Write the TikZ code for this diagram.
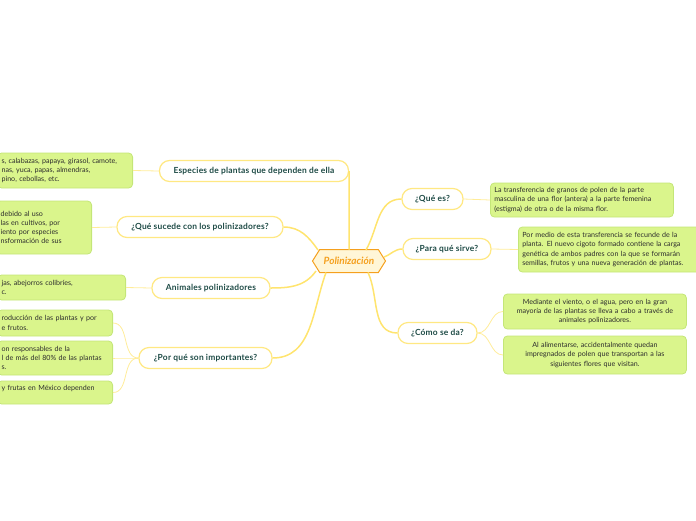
\documentclass[tikz,border=0pt]{standalone}
\usepackage{fontspec}
\setmainfont{Lato}
\newfontfamily\pillfont[LetterSpace=2.5]{Lato}
\usepackage{tikz}
\usetikzlibrary{shapes.symbols}
\definecolor{linkyellow}{RGB}{255,228,110}
\definecolor{pillborder}{RGB}{255,232,130}
\definecolor{pilltext}{RGB}{30,75,70}
\definecolor{leafgreen}{RGB}{218,245,140}
\definecolor{leafborder}{RGB}{196,230,120}
\definecolor{leaftext}{RGB}{45,45,45}
\definecolor{rootorange}{RGB}{245,160,30}
\definecolor{rootfill}{RGB}{255,246,215}

\begin{document}
\begin{tikzpicture}[x=1pt, y=-1pt,
  pill/.style={draw=pillborder, line width=1.2pt, fill=white, rounded corners=10pt,
    minimum height=21pt, inner xsep=6pt, inner ysep=0pt, text=pilltext,
    font=\pillfont\fontsize{8.4}{9}\selectfont\bfseries},
  leaf/.style={draw=leafborder, line width=0.8pt, fill=leafgreen, rounded corners=4pt,
    inner sep=4pt, text=leaftext, font=\fontsize{7.1}{9.2}\selectfont},
  link/.style={draw=linkyellow, line width=1.5pt},
  twig/.style={draw=linkyellow!70, line width=0.8pt}]
  \useasboundingbox (0,0) rectangle (696,520);
  \clip (0,0) rectangle (696,520);

  % root
  \node[signal, signal to=east and west, signal pointer angle=116, draw=rootorange,
    line width=1pt, fill=rootfill, minimum width=73pt, minimum height=23pt,
    inner sep=0pt, text=rootorange, font=\fontsize{10}{11}\selectfont\bfseries\itshape]
    (root) at (349,261) {Polinización};

  % main topics
  \node[pill, minimum width=189pt] (especies) at (254,171) {Especies de plantas que dependen de ella};
  \node[pill, minimum width=166pt] (sucede) at (200,227) {¿Qué sucede con los polinizadores?};
  \node[pill, minimum width=118pt] (animales) at (211,288) {Animales polinizadores};
  \node[pill, minimum width=133pt] (importan) at (205.5,358) {¿Por qué son importantes?};
  \node[pill, minimum width=61pt] (quees) at (432.5,199) {¿Qué es?};
  \node[pill, minimum width=88pt] (sirve) at (447,249) {¿Para qué sirve?};
  \node[pill, minimum width=79pt] (comoda) at (437.5,333) {¿Cómo se da?};

  % links from root
  \draw[link] (especies.east) to[out=-90, in=90] (349,249.5);
  \draw[link] (318,250) to[out=125, in=0] (sucede.east);
  \draw[link] (316,271) to[out=235, in=0] (animales.east);
  \draw[link] (326,272.5) to[out=-110, in=0] (importan.east);
  \draw[link] (366,250) to[out=60, in=180] (quees.west);
  \draw[link] (384,257) to[out=20, in=180] (sirve.west);
  \draw[link] (368,272.5) to[out=-65, in=180] (comoda.west);

  % left leaves
  \node[leaf, anchor=east, text width=127pt, align=left, minimum height=35pt] (hojaA) at (133,170.5)
    {s, calabazas, papaya, girasol, camote,\\nas, yuca, papas, almendras,\\pino, cebollas, etc.};
  \node[leaf, anchor=east, text width=87pt, align=left, minimum height=53pt] (hojaB) at (92,227.5)
    {debido al uso\\las en cultivos, por\\iento por especies\\nsformación de sus};
  \node[leaf, anchor=east, text width=120pt, align=left, minimum height=25pt] (hojaC) at (126,287.5)
    {jas, abejorros colibríes,\\c.};
  \node[leaf, anchor=east, text width=107pt, align=left, minimum height=26pt] (hojaD) at (113,323)
    {roducción de las plantas y por\\e frutos.};
  \node[leaf, anchor=east, text width=107pt, align=left, minimum height=34pt] (hojaE) at (113,358)
    {on responsables de la\\l de más del 80\% de las plantas\\s.};
  \node[leaf, anchor=east, text width=107pt, align=left, minimum height=23pt] (hojaF) at (113,392.5)
    {y frutas en México dependen\\\mbox{}};

  % right leaves
  \node[leaf, anchor=west, text width=175pt, align=left, minimum height=34pt] (hojaG) at (490,200)
    {La transferencia de granos de polen de la parte\\masculina de una flor (antera) a la parte femenina\\(estigma) de otra o de la misma flor.};
  \node[leaf, anchor=west, text width=174pt, align=left, minimum height=45pt] (hojaH) at (518,249.5)
    {Por medio de esta transferencia se fecunde de la\\planta. El nuevo cigoto formado contiene la carga\\genética de ambos padres con la que se formarán\\semillas, frutos y una nueva generación de plantas.};
  \node[leaf, anchor=west, text width=175pt, align=center, minimum height=35pt] (hojaI) at (503,311.5)
    {Mediante el viento, o el agua, pero en la gran\\mayoría de las plantas se lleva a cabo a través de\\animales polinizadores.};
  \node[leaf, anchor=west, text width=175pt, align=center, minimum height=38pt] (hojaJ) at (503,355)
    {Al alimentarse, accidentalmente quedan\\impregnados de polen que transportan a las\\siguientes flores que visitan.};

  % twigs to leaves
  \draw[twig] (especies.west) -- (hojaA.east);
  \draw[twig] (sucede.west) -- (hojaB.east);
  \draw[twig] (animales.west) -- (hojaC.east);
  \foreach \h in {hojaD,hojaE,hojaF}
    \draw[twig] (importan.west) to[out=180, in=0] (\h.east);
  \draw[twig] (quees.east) -- (hojaG.west);
  \draw[twig] (sirve.east) -- (hojaH.west);
  \foreach \h in {hojaI,hojaJ}
    \draw[twig] (comoda.east) to[out=0, in=180] (\h.west);
\end{tikzpicture}
\end{document}
